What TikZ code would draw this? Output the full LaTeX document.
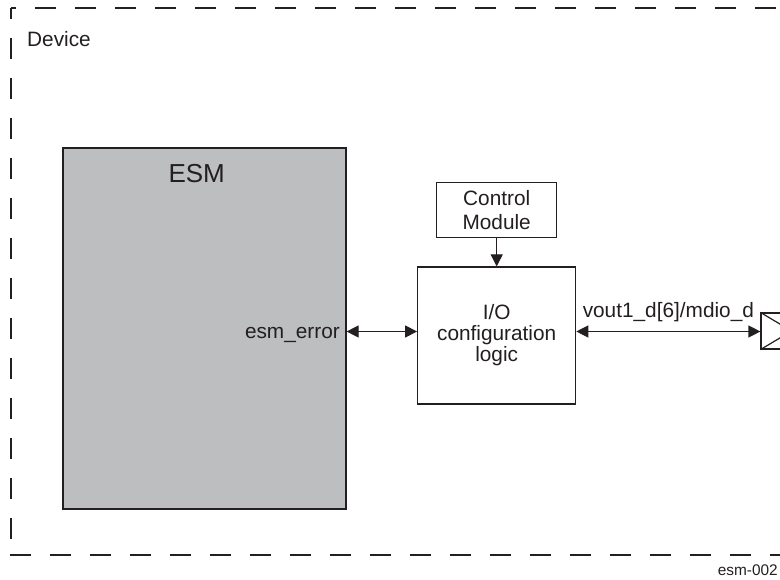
\documentclass[tikz,border=0pt]{standalone}
\usepackage{fontspec}
\setmainfont{Liberation Sans}
\usetikzlibrary{arrows.meta,positioning}
\definecolor{tinta}{HTML}{231F20}
\definecolor{szurke}{HTML}{BCBEC0}
\tikzset{
  kocka/.style={draw=tinta,line width=1.2pt,fill=white,inner sep=0pt,align=center,text=tinta,
                font={\fontsize{20.8}{21}\selectfont}},
  esmdoboz/.style={kocka,fill=szurke},
  cimke/.style={text=tinta,inner sep=0pt,font={\fontsize{20.8}{21}\selectfont}},
  nyil/.style={-{Triangle[length=12pt,width=12pt]},line width=1.2pt,draw=tinta},
  kettos/.style={{Triangle[length=12pt,width=12pt]}-{Triangle[length=12pt,width=12pt]},
                 line width=1.2pt,draw=tinta},
  keret/.style={draw=tinta,line width=1.2pt,dash pattern=on 21pt off 19pt},
}

\begin{document}
\begin{tikzpicture}[x=1pt,y=-1pt]
  \clip (0,0) rectangle (780,580);
  % device frame
  \draw[keret,dash phase=10pt] (11,8) -- (11,555);
  \draw[keret,dash phase=16pt] (11,8) -- (800,8);
  \draw[keret] (10,555) -- (800,555);
  \node[cimke,anchor=base west] (dev) at (27,47) {Device};

  % ESM block
  \node[esmdoboz,minimum width=283pt,minimum height=361pt] (esm) at (204.5,328.5) {};
  \node[cimke,anchor=base,font={\fontsize{26}{28}\selectfont}] (esmcim) at (196.7,183) {ESM};
  \node[cimke,anchor=base east] (err) at (340,338) {esm\_error};

  % I/O logic and control
  \node[kocka,minimum width=158pt,minimum height=137pt] (io) at (496.7,335.5) {I/O\\configuration\\logic};
  \node[kocka,minimum width=120pt,minimum height=55pt,font={\fontsize{20.8}{24}\selectfont},
        above=28pt of io] (ctrl) {Control\\Module};

  % pad
  \node[kocka,minimum width=30pt,minimum height=36pt] (pad) at (776,331) {};
  \draw[draw=tinta,line width=1.2pt] (pad.north west) -- (pad.east) -- (pad.south west);

  % connectors
  \coordinate (jel) at (0,331.5);
  \draw[kettos] (esm.east |- jel) -- (io.west |- jel);
  \draw[kettos] (io.east |- jel) -- node[cimke,anchor=base,yshift=13.5pt] (vout) {vout1\_d[6]/mdio\_d} (pad.west |- jel);
  \draw[nyil] (ctrl) -- (io);

  \node[cimke,anchor=base east,font={\fontsize{15.4}{17}\selectfont}] (azon) at (778,575) {esm-002};
\end{tikzpicture}
\end{document}
